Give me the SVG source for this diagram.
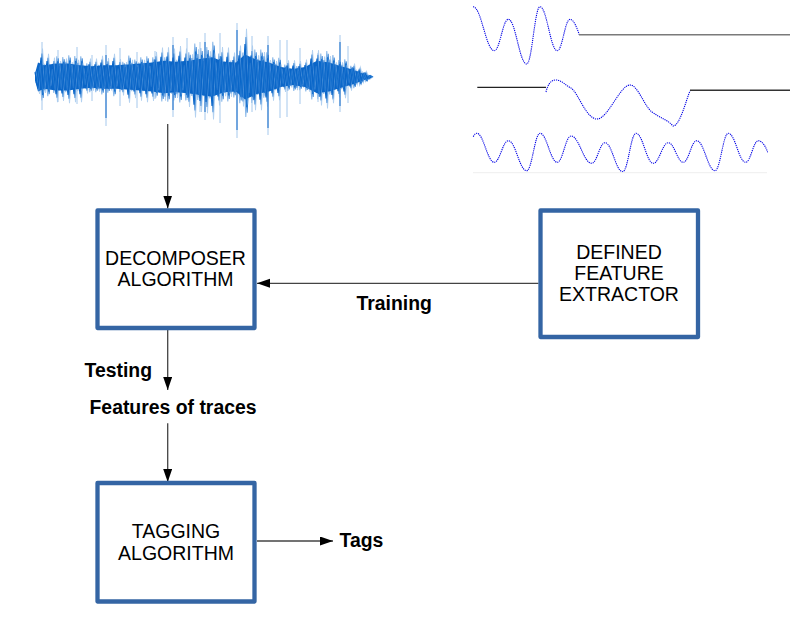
<svg xmlns="http://www.w3.org/2000/svg" xmlns:xlink="http://www.w3.org/1999/xlink" width="808" height="618" viewBox="0 0 808 618">
<style>
.box{fill:#fff;stroke:#3465a4;stroke-width:4.3;stroke-linejoin:round}
.bt{font-family:"Liberation Sans",Arial,sans-serif;font-size:19.5px;fill:#000;text-anchor:middle}
.lb{font-family:"Liberation Sans",Arial,sans-serif;font-size:19.4px;font-weight:bold;fill:#000}
.con{stroke:#444;stroke-width:1.3;fill:none}
.wl{fill:none;stroke:#0000e6;stroke-width:1.1;stroke-dasharray:1.2 0.9}
</style>
<defs>
<marker id="ah" markerUnits="userSpaceOnUse" markerWidth="14" markerHeight="10" refX="13" refY="4.5" orient="auto">
<path d="M0,0 L13,4.5 L0,9 Z" fill="#000"/>
</marker>
<path id="zz" d="M35,73 L38,86.6 41,60.8 44,86.1 47,63.8 50,83 53,66 56,91.3 59,67.9 62,90.7 65,66.5 68,92 71,68.6 74,91.4 77,67.2 80,91.3 83,71 86,86.4 89,66.5 92,84.8 95,66.5 98,85.3 101,65 104,84.8 107,66.2 110,84.7 113,63.8 116,83.5 119,66.8 122,87.5 125,68.5 128,91.7 131,67.2 134,89 137,68.6 140,90.5 143,67.2 146,91.3 149,69.5 152,90.6 155,62.7 158,86.1 161,60.2 164,90.5 167,60 170,86.6 173,60.8 176,88.9 179,59.4 182,86 185,60.8 188,94.1 191,64 194,100.1 197,61.2 200,97 203,63.8 206,97.7 209,62.3 212,101.2 215,67 218,93.2 221,59.9 224,88 227,60.2 230,88.3 233,63 236,86.6 239,59 242,93.8 245,49.5 248,88 251,59.1 254,96 257,64.6 260,95.9 263,62.7 266,94 269,67.4 272,90.5 275,67.9 278,90.2 281,71.5 284,85.5 287,67.5 290,82.9 293,67.5 296,84.5 299,68 302,83 305,67.1 308,85.4 311,61.6 314,85.5 317,61.7 320,93.2 323,65.3 326,94.9 329,65 332,92 335,68.6 338,88.7 341,68.6 344,89.1 347,72 350,84.7 353,69.4 356,80.9 359,71.7 362,80 365,74 368,78.2 371,77"/>
</defs>

<g id="waveform">
<use xlink:href="#zz" fill="none" stroke="#b3d1f0" stroke-width="1" transform="matrix(1 0 0 1.75 1.5 -57.75)"/>
<use xlink:href="#zz" fill="none" stroke="#86b6e8" stroke-width="1" transform="matrix(1 0 0 -1.45 0.8 188.65)"/>
<path d="M42,42 V110 M58,50 V102 M77,47 V104 M92,55 V101 M106,45 V126 M120,48 V106 M137,52 V108 M155,51 V99 M173,37 V117 M187,38 V100 M200,42 V112 M205,33 V120 M213,45 V108 M220,33 V123 M237,23 V138 M252,36 V112 M268,36 V135 M280,40 V118 M287,40 V117 M300,48 V104 M318,53 V102 M333,55 V100 M340,35 V112 M348,46 V103" stroke="#a5c8ec" stroke-width="1" fill="none"/>
<path transform="matrix(1 0 0 1.5 0 -38.5)" d="M35,74.6 L38,67.4 44,69.2 56,68 68,68 80,69.2 92,69.8 104,69.2 116,69.2 128,68.6 140,68 152,67.4 164,66.2 176,66.8 188,66.2 200,65 212,63.8 224,66.8 236,67.4 245,62 257,65.6 269,67.4 281,70.4 293,71.6 305,70.4 317,66.2 329,67.4 341,69.8 353,72.2 365,75.2 372,77 L365,78.8 353,81.8 341,84.2 329,86.6 317,87.8 305,83.6 293,82.4 281,83.6 269,86.6 257,88.4 245,92 236,86.6 224,87.2 212,90.2 200,89 188,87.8 176,87.2 164,87.8 152,86.6 140,86 128,85.4 116,84.8 104,84.8 92,84.2 80,84.8 68,86 56,86 44,84.8 38,86.6 35,79.4 Z" fill="#0b66c8"/>
<use xlink:href="#zz" fill="none" stroke="#4a90da" stroke-width="0.9" transform="matrix(1 0 0 1.45 0.9 -34.65)"/>
<use xlink:href="#zz" fill="none" stroke="#0b66c8" stroke-width="1.2" transform="matrix(1 0 0 1.2 0 -15.4)"/>
<use xlink:href="#zz" fill="none" stroke="#0d6ccc" stroke-width="1" transform="matrix(1 0 0 -1.1 1.5 161.7)"/>
<use xlink:href="#zz" fill="none" stroke="#2a7bd2" stroke-width="0.8" transform="matrix(1 0 0 -1.3 2.2 177.1)"/>
<path d="M106,55 V118 M173,45 V110 M205,42 V112 M237,30 V130 M268,45 V128 M340,42 V106" stroke="#1169c8" stroke-width="1" fill="none"/>
</g>

<g id="wavelets">
<path class="wl" d="M473,6.7 C481.5,6.7 485.8,50.7 494.3,50.7 C499.9,50.7 502.7,19.3 508.3,19.3 C515.7,19.3 519.3,64 526.7,64 C532,64 534.7,6.7 540,6.7 C546.9,6.7 550.4,50.7 557.3,50.7 C562.4,50.7 564.9,19.3 570,19.3 C573.7,19.3 577,28 579.3,34.7"/>
<line x1="579" y1="34.7" x2="790" y2="34.7" stroke="#7a7a7a" stroke-width="1.6"/>
<line x1="477.3" y1="87.3" x2="546" y2="87.3" stroke="#222" stroke-width="1.3"/>
<path class="wl" d="M546,92 C548,84 551,80 556,80 C562,80 566,86 571,88 C578,92 586,119 597,119 C608,119 620,85 630,85 C638,85 644,106 652,112 C660,118 668,120 673,126 C680,126 686,100 690,91"/>
<line x1="690" y1="90.3" x2="790" y2="90.3" stroke="#333" stroke-width="1.4"/>
<path class="wl" d="M473.3,136.7 Q475,133.3 476.7,133.3 C483.7,133.3 487.3,162.3 494.3,162.3 C499.9,162.3 502.7,140.7 508.3,140.7 C515.7,140.7 519.3,170.7 526.7,170.7 C532,170.7 534.7,133.3 540,133.3 C546.9,133.3 550.4,162.3 557.3,162.3 C562.8,162.3 565.5,136 571,136 C579.3,136 583.4,163.3 591.7,163.3 C597,163.3 599.7,142.7 605,142.7 C612.1,142.7 615.6,171.7 622.7,171.7 C628,171.7 630.7,133.3 636,133.3 C642.9,133.3 646.4,163.3 653.3,163.3 C659.3,163.3 662.3,142.7 668.3,142.7 C674.3,142.7 677.3,162.3 683.3,162.3 C688.7,162.3 691.3,140.7 696.7,140.7 C704,140.7 707.7,170.7 715,170.7 C720.3,170.7 723,133.3 728.3,133.3 C735.3,133.3 738.7,162.3 745.7,162.3 C750.7,162.3 753.3,140.7 758.3,140.7 C762,140.7 765.5,146 767.7,152.3"/>
<line x1="473" y1="172.7" x2="767" y2="172.7" stroke="#eeeeee" stroke-width="1"/>
</g>

<g id="connectors">
<line class="con" x1="167.7" y1="124" x2="167.7" y2="208.5" marker-end="url(#ah)"/>
<line class="con" x1="167.7" y1="330" x2="167.7" y2="390" marker-end="url(#ah)"/>
<line class="con" x1="167.7" y1="423.3" x2="167.7" y2="482" marker-end="url(#ah)"/>
<line class="con" x1="538.5" y1="283.3" x2="257" y2="283.3" marker-end="url(#ah)"/>
<line class="con" x1="257" y1="541" x2="333" y2="541" marker-end="url(#ah)"/>
</g>

<g id="decomposer">
<rect class="box" x="97.5" y="210.5" width="157" height="117.5"/>
<text class="bt" x="175.5" y="265">DECOMPOSER</text>
<text class="bt" x="175.5" y="286">ALGORITHM</text>
</g>

<g id="extractor">
<rect class="box" x="540.5" y="210.5" width="157.5" height="126.5"/>
<text class="bt" x="619" y="259.3">DEFINED</text>
<text class="bt" x="619" y="280.3">FEATURE</text>
<text class="bt" x="619" y="301.3">EXTRACTOR</text>
</g>

<g id="tagging">
<rect class="box" x="97.5" y="483" width="157" height="118.5"/>
<text class="bt" x="176" y="538.3">TAGGING</text>
<text class="bt" x="176" y="559.5">ALGORITHM</text>
</g>

<g id="labels">
<text class="lb" x="356.5" y="310">Training</text>
<text class="lb" x="84.5" y="377.3">Testing</text>
<text class="lb" x="89.5" y="414.3">Features of traces</text>
<text class="lb" x="339.5" y="546.7">Tags</text>
</g>
</svg>
